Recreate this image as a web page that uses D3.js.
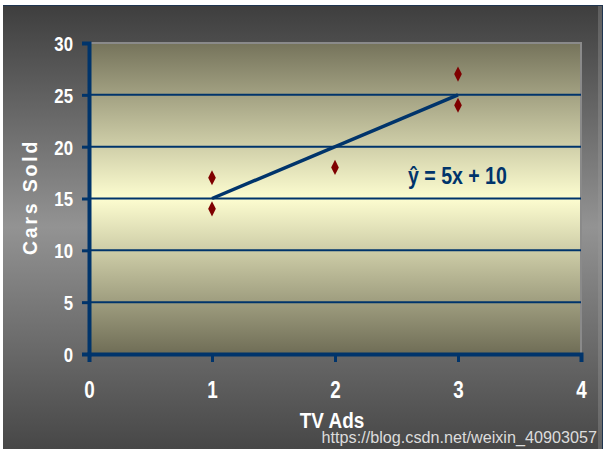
<!DOCTYPE html>
<html>
<head>
<meta charset="utf-8">
<script src="https://cdn.jsdelivr.net/npm/d3@7"></script>
<style>
  html, body { margin: 0; padding: 0; background: #fff; }
  svg { display: block; }
  .lbl { font-family: "Liberation Sans", Arial, sans-serif; font-weight: bold; }
</style>
</head>
<body>
<svg width="608" height="457"></svg>
<script>
// data
const adsX = [1, 1, 2, 3, 3]
const carsY = [17, 14, 18, 27, 24]
const fitX = [1, 3]
const yTicks = [0, 5, 10, 15, 20, 25, 30]
const xTicks = [0, 1, 2, 3, 4]

const narrow = 0.82

const svg = d3.select('svg')
const defs = svg.append('defs')

const bgGrad = defs.append('linearGradient').attr('id', 'bg')
  .attr('x1', 0).attr('y1', 0).attr('x2', 0).attr('y2', 1)
bgGrad.selectAll('stop')
  .data([[0, '#3e3e3e'], [0.5, '#939393'], [1, '#474747']])
  .join('stop')
  .attr('offset', d => d[0]).attr('stop-color', d => d[1])

const plotGrad = defs.append('linearGradient').attr('id', 'plotbg')
  .attr('x1', 0).attr('y1', 0).attr('x2', 0).attr('y2', 1)
plotGrad.selectAll('stop')
  .data([[0, '#75735b'], [0.5, '#fdfdd0'], [1, '#6f6d56']])
  .join('stop')
  .attr('offset', d => d[0]).attr('stop-color', d => d[1])

// outer panel
svg.append('rect')
  .attr('x', 3).attr('y', 5).attr('width', 600).attr('height', 444)
  .attr('fill', 'url(#bg)')
svg.append('rect')
  .attr('x', 598).attr('y', 5).attr('width', 4).attr('height', 444)
  .attr('fill', '#9a9a9a').attr('opacity', 0.35)
svg.append('path')
  .attr('d', 'M3,5.5H602.5V449')
  .attr('stroke', '#1f3550').attr('stroke-width', 1).attr('fill', 'none')

const pLeft = 89, pRight = 581, pTop = 43, pBottom = 354
const x = d3.scaleLinear().domain([0, 4]).range([pLeft, pRight])
const y = d3.scaleLinear().domain([0, 30]).range([pBottom, pTop])

// plot area
svg.append('rect')
  .attr('x', pLeft).attr('y', pTop).attr('width', pRight - pLeft).attr('height', pBottom - pTop)
  .attr('fill', 'url(#plotbg)')
  .attr('stroke', '#8a8a8a').attr('stroke-width', 2)

// grid
svg.append('g')
  .selectAll('line')
  .data(yTicks.filter(d => d > 0 && d < 30))
  .join('line')
  .attr('x1', pLeft).attr('x2', pRight)
  .attr('y1', d => y(d)).attr('y2', d => y(d))
  .attr('stroke', '#00346b').attr('stroke-width', 2)

// axes
const yAxis = svg.append('g')
  .attr('transform', `translate(${pLeft},0)`)
  .call(d3.axisLeft(y).tickValues(yTicks).tickSize(7))
yAxis.select('.domain').attr('stroke', '#00346b').attr('stroke-width', 4)
yAxis.selectAll('.tick line').attr('stroke', '#00346b').attr('stroke-width', 3)
yAxis.selectAll('.tick text')
  .attr('class', 'lbl').attr('fill', '#fff').attr('font-size', 20.5)
  .attr('x', -16 / narrow).attr('dy', '0.36em')
  .attr('transform', `scale(${narrow},1)`)

const xAxis = svg.append('g')
  .attr('transform', `translate(0,${pBottom})`)
  .call(d3.axisBottom(x).tickValues(xTicks).tickFormat(d3.format('d')).tickSize(8))
xAxis.select('.domain').attr('stroke', '#00346b').attr('stroke-width', 4)
xAxis.selectAll('.tick line').attr('stroke', '#00346b').attr('stroke-width', 3)
xAxis.selectAll('.tick text')
  .attr('class', 'lbl').attr('fill', '#fff').attr('font-size', 23)
  .attr('y', 44).attr('dy', 0)
  .attr('transform', `scale(${narrow},1)`)

// regression line  y = 5x + 10
svg.append('path')
  .datum(fitX)
  .attr('d', d3.line().x(d => x(d)).y(d => y(5 * d + 10)))
  .attr('stroke', '#00346b').attr('stroke-width', 3.5).attr('fill', 'none')

// points
svg.append('g')
  .selectAll('path')
  .data(adsX.map((d, i) => [d, carsY[i]]))
  .join('path')
  .attr('d', d3.symbol().type(d3.symbolDiamond).size(66))
  .attr('transform', d => `translate(${x(d[0])},${y(d[1])}) scale(0.88,1)`)
  .attr('fill', '#7f0000')

// equation
svg.append('text')
  .attr('class', 'lbl')
  .attr('transform', `translate(408,184) scale(${narrow + 0.03},1)`)
  .attr('font-size', 23).attr('fill', '#00346b')
  .text('ŷ = 5x + 10')

// axis titles
svg.append('text')
  .attr('class', 'lbl')
  .attr('transform', 'translate(37,197) rotate(-90)')
  .attr('text-anchor', 'middle')
  .attr('font-size', 19.5).attr('letter-spacing', 2.8).attr('fill', '#fff')
  .text('Cars Sold')

svg.append('text')
  .attr('class', 'lbl')
  .attr('transform', `translate(332,428) scale(0.86,1)`)
  .attr('text-anchor', 'middle')
  .attr('font-size', 22).attr('fill', '#fff')
  .text('TV Ads')

// watermark
svg.append('text')
  .attr('x', 597).attr('y', 443)
  .attr('text-anchor', 'end')
  .attr('font-family', '"Liberation Sans", Arial, sans-serif')
  .attr('font-size', 16.2).attr('fill', '#dcdcdc')
  .text('https://blog.csdn.net/weixin_40903057')
</script>
</body>
</html>
